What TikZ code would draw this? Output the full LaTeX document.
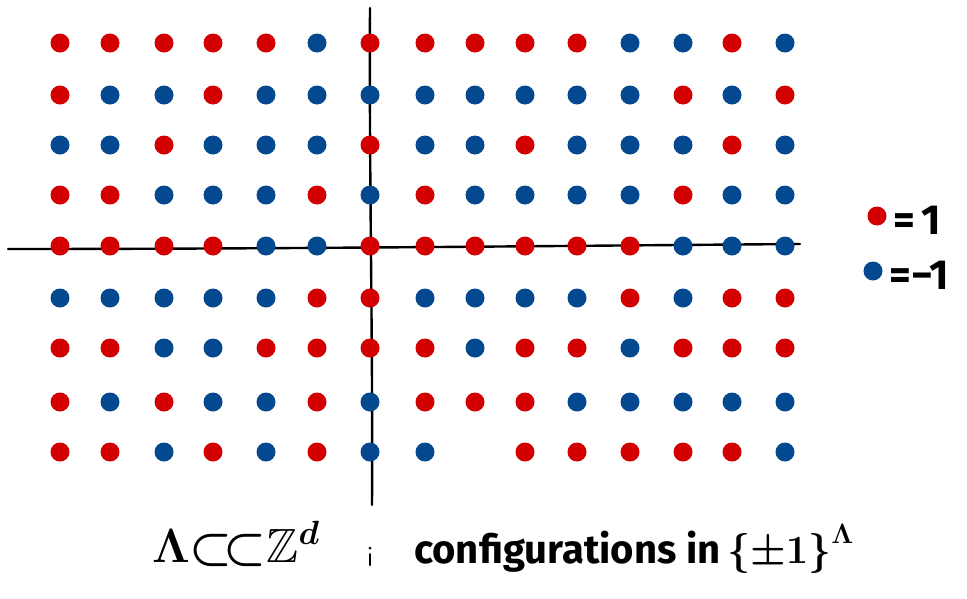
\documentclass[tikz,border=0pt]{standalone}
\usepackage{fix-cm}
\usepackage{amssymb}
\usepackage{fontspec}
\setmainfont{Fira Sans}
\definecolor{sred}{RGB}{210,0,0}
\definecolor{sblue}{RGB}{4,72,143}
\begin{document}
\begin{tikzpicture}[x=1pt,y=-1pt,
  dot/.style={circle,inner sep=0pt,minimum size=19pt},
  R/.style={dot,fill=sred},
  B/.style={dot,fill=sblue},
  axisline/.style={line width=2.4pt,black,line cap=round},
  handtext/.style={inner sep=0pt,anchor=base west,text=black}]
\useasboundingbox (0,0) rectangle (967,598);
\def\colx{{60,110,164,213,266,317,370,425,475,525,577,630,683,732,785}}
\def\rowy{{43,95,145,195,246,298,348,402,452}}
\def\tmpX{X}
% axes
\coordinate (vtop) at (370,8);
\coordinate (vbot) at (372,505);
\coordinate (hleft) at (8,249);
\coordinate (hright) at (800,244);
\draw[axisline] (vtop) .. controls (369,170) and (373,340) .. (vbot);
\draw[axisline] (hleft) .. controls (270,249) and (540,246) .. (hright);
% dots
\foreach \r/\row in {
 1/{R,R,R,R,R,B,R,R,R,R,R,B,B,R,B},
 2/{R,B,B,R,B,B,B,B,B,B,B,B,R,B,R},
 3/{B,B,R,B,B,B,R,B,B,R,B,B,B,R,B},
 4/{R,R,B,B,B,R,B,R,B,B,B,B,R,B,B},
 5/{R,R,R,R,B,B,R,R,R,R,R,R,B,B,B},
 6/{B,B,B,B,B,R,R,B,B,B,B,R,B,R,R},
 7/{R,R,B,B,R,R,R,R,B,R,R,B,R,R,R},
 8/{R,B,R,B,B,R,B,R,R,R,B,B,B,B,B},
 9/{R,R,B,R,B,R,B,B,X,R,R,R,R,R,B}}{
  \foreach \c [count=\i] in \row {
    \ifx\c\tmpX\else
      \node[\c] (d\r-\i) at ({\colx[\i-1]},{\rowy[\r-1]}) {};
    \fi
  }
}
% small mark under the axis
\node[circle,fill=black,inner sep=0pt,minimum size=3pt] (idot) at (370,548) {};
\coordinate (itop) at (370,554);
\coordinate (ibot) at (370,565);
\draw[line width=2pt,line cap=round] (itop) -- (ibot);
% bottom texts
\node[handtext,font=\boldmath\fontsize{48}{50}\selectfont] (lam) at (152,562)
  {$\Lambda\mathord{\subset}\!\mathord{\subset}\mathbb{Z}^{d}$};
\node[handtext,font=\boldmath\bfseries\fontsize{40}{44}\selectfont] (conf) at (414,563)
  {configurations in\,$\bigl\{\pm 1\bigr\}^{\Lambda}$};
% legend
\node[R] (lr) at (877,216) {};
\node[B] (lb) at (873,271) {};
\node[handtext,font=\bfseries\fontsize{42}{44}\selectfont] (l1) at (893,234) {=\,1};
\node[handtext,font=\bfseries\fontsize{42}{44}\selectfont] (l2) at (889,289) {=−1};
\end{tikzpicture}
\end{document}
